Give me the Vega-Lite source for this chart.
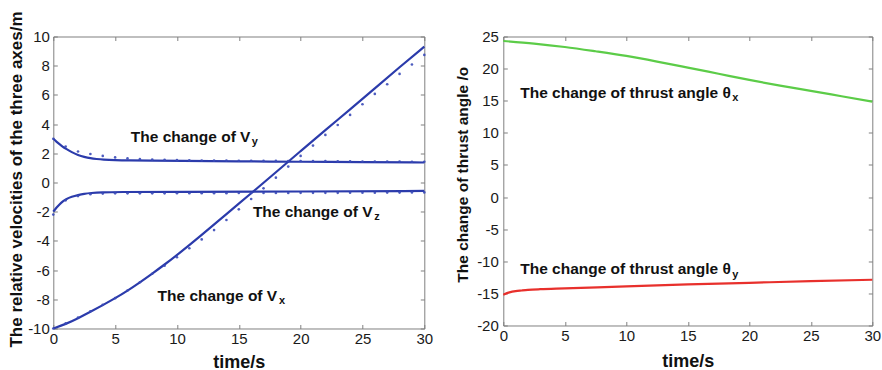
{
  "$schema": "https://vega.github.io/schema/vega-lite/v6.json",
  "background": "white",
  "padding": {"left": 6.3, "top": 9.5, "right": 0, "bottom": 0},
  "bounds": "flush",
  "spacing": 79,
  "config": {
    "view": {"stroke": "#808080", "strokeWidth": 1},
    "font": "Liberation Sans",
    "axis": {
      "grid": false, "domain": false, "tickColor": "#808080", "tickSize": -4, "tickWidth": 1,
      "labelFont": "Liberation Sans", "labelFontSize": 15, "labelColor": "#1a1a1a",
      "labelFlush": false, "labelOverlap": false, "labelExpr": "datum.value + ''",
      "titleFont": "Liberation Sans", "titleFontWeight": "bold", "titleColor": "#111111"
    }
  },
  "datasets": {
    "vel": [
      {"series": "Vx", "t": 0, "v": -10}, {"series": "Vx", "t": 1, "v": -9.7}, {"series": "Vx", "t": 2, "v": -9.3},
      {"series": "Vx", "t": 3, "v": -8.86}, {"series": "Vx", "t": 4, "v": -8.4}, {"series": "Vx", "t": 5, "v": -7.93},
      {"series": "Vx", "t": 6, "v": -7.41}, {"series": "Vx", "t": 7, "v": -6.84}, {"series": "Vx", "t": 8, "v": -6.24},
      {"series": "Vx", "t": 9, "v": -5.62}, {"series": "Vx", "t": 10, "v": -4.98}, {"series": "Vx", "t": 12, "v": -3.6},
      {"series": "Vx", "t": 14, "v": -2.16}, {"series": "Vx", "t": 16, "v": -0.74}, {"series": "Vx", "t": 18, "v": 0.7},
      {"series": "Vx", "t": 20, "v": 2.15}, {"series": "Vx", "t": 22, "v": 3.6}, {"series": "Vx", "t": 24, "v": 5.0},
      {"series": "Vx", "t": 26, "v": 6.45}, {"series": "Vx", "t": 28, "v": 7.9}, {"series": "Vx", "t": 30, "v": 9.3},
      {"series": "Vy", "t": 0, "v": 3.0}, {"series": "Vy", "t": 0.25, "v": 2.8}, {"series": "Vy", "t": 0.5, "v": 2.62},
      {"series": "Vy", "t": 0.75, "v": 2.46}, {"series": "Vy", "t": 1, "v": 2.32}, {"series": "Vy", "t": 1.5, "v": 2.07},
      {"series": "Vy", "t": 2, "v": 1.88}, {"series": "Vy", "t": 2.5, "v": 1.75}, {"series": "Vy", "t": 3, "v": 1.66},
      {"series": "Vy", "t": 3.5, "v": 1.61}, {"series": "Vy", "t": 4, "v": 1.57}, {"series": "Vy", "t": 5, "v": 1.53},
      {"series": "Vy", "t": 6, "v": 1.51}, {"series": "Vy", "t": 8, "v": 1.5}, {"series": "Vy", "t": 10, "v": 1.48},
      {"series": "Vy", "t": 15, "v": 1.45}, {"series": "Vy", "t": 20, "v": 1.42}, {"series": "Vy", "t": 25, "v": 1.39},
      {"series": "Vy", "t": 30, "v": 1.37},
      {"series": "Vz", "t": 0, "v": -2.0}, {"series": "Vz", "t": 0.25, "v": -1.72}, {"series": "Vz", "t": 0.5, "v": -1.5},
      {"series": "Vz", "t": 0.75, "v": -1.3}, {"series": "Vz", "t": 1, "v": -1.15}, {"series": "Vz", "t": 1.5, "v": -0.97},
      {"series": "Vz", "t": 2, "v": -0.86}, {"series": "Vz", "t": 2.5, "v": -0.77}, {"series": "Vz", "t": 3, "v": -0.72},
      {"series": "Vz", "t": 4, "v": -0.67}, {"series": "Vz", "t": 5, "v": -0.65}, {"series": "Vz", "t": 10, "v": -0.64},
      {"series": "Vz", "t": 20, "v": -0.62}, {"series": "Vz", "t": 30, "v": -0.58}
    ],
    "velDots": [
      {"series": "Vx", "t": 0, "v": -10}, {"series": "Vx", "t": 1, "v": -9.65}, {"series": "Vx", "t": 2, "v": -9.25},
      {"series": "Vx", "t": 3, "v": -8.82}, {"series": "Vx", "t": 4, "v": -8.38}, {"series": "Vx", "t": 5, "v": -7.92},
      {"series": "Vx", "t": 6, "v": -7.4}, {"series": "Vx", "t": 7, "v": -6.83}, {"series": "Vx", "t": 8, "v": -6.25},
      {"series": "Vx", "t": 9, "v": -5.7}, {"series": "Vx", "t": 10, "v": -5.12}, {"series": "Vx", "t": 11, "v": -4.5},
      {"series": "Vx", "t": 12, "v": -3.9}, {"series": "Vx", "t": 13, "v": -3.26}, {"series": "Vx", "t": 14, "v": -2.57},
      {"series": "Vx", "t": 15, "v": -1.84}, {"series": "Vx", "t": 16, "v": -1.13}, {"series": "Vx", "t": 17, "v": -0.4},
      {"series": "Vx", "t": 18, "v": 0.33}, {"series": "Vx", "t": 19, "v": 1.09}, {"series": "Vx", "t": 20, "v": 1.82},
      {"series": "Vx", "t": 21, "v": 2.53}, {"series": "Vx", "t": 22, "v": 3.26}, {"series": "Vx", "t": 23, "v": 3.94},
      {"series": "Vx", "t": 24, "v": 4.63}, {"series": "Vx", "t": 25, "v": 5.36}, {"series": "Vx", "t": 26, "v": 6.07},
      {"series": "Vx", "t": 27, "v": 6.73}, {"series": "Vx", "t": 28, "v": 7.44}, {"series": "Vx", "t": 29, "v": 8.08},
      {"series": "Vx", "t": 30, "v": 8.74},
      {"series": "Vy", "t": 0, "v": 3.0}, {"series": "Vy", "t": 1, "v": 2.46}, {"series": "Vy", "t": 2, "v": 2.12},
      {"series": "Vy", "t": 3, "v": 1.95}, {"series": "Vy", "t": 4, "v": 1.82}, {"series": "Vy", "t": 5, "v": 1.72},
      {"series": "Vy", "t": 6, "v": 1.65}, {"series": "Vy", "t": 7, "v": 1.6}, {"series": "Vy", "t": 8, "v": 1.57},
      {"series": "Vy", "t": 9, "v": 1.55}, {"series": "Vy", "t": 10, "v": 1.53}, {"series": "Vy", "t": 11, "v": 1.52},
      {"series": "Vy", "t": 12, "v": 1.51}, {"series": "Vy", "t": 13, "v": 1.5}, {"series": "Vy", "t": 14, "v": 1.5},
      {"series": "Vy", "t": 15, "v": 1.49}, {"series": "Vy", "t": 16, "v": 1.49}, {"series": "Vy", "t": 17, "v": 1.48},
      {"series": "Vy", "t": 18, "v": 1.48}, {"series": "Vy", "t": 19, "v": 1.47}, {"series": "Vy", "t": 20, "v": 1.47},
      {"series": "Vy", "t": 21, "v": 1.46}, {"series": "Vy", "t": 22, "v": 1.46}, {"series": "Vy", "t": 23, "v": 1.45},
      {"series": "Vy", "t": 24, "v": 1.45}, {"series": "Vy", "t": 25, "v": 1.44}, {"series": "Vy", "t": 26, "v": 1.44},
      {"series": "Vy", "t": 27, "v": 1.43}, {"series": "Vy", "t": 28, "v": 1.43}, {"series": "Vy", "t": 29, "v": 1.42},
      {"series": "Vy", "t": 30, "v": 1.42},
      {"series": "Vz", "t": 0, "v": -2.2}, {"series": "Vz", "t": 1, "v": -1.22}, {"series": "Vz", "t": 2, "v": -0.93},
      {"series": "Vz", "t": 3, "v": -0.8}, {"series": "Vz", "t": 4, "v": -0.76}, {"series": "Vz", "t": 5, "v": -0.74},
      {"series": "Vz", "t": 6, "v": -0.74}, {"series": "Vz", "t": 7, "v": -0.74}, {"series": "Vz", "t": 8, "v": -0.74},
      {"series": "Vz", "t": 9, "v": -0.74}, {"series": "Vz", "t": 10, "v": -0.73}, {"series": "Vz", "t": 11, "v": -0.73},
      {"series": "Vz", "t": 12, "v": -0.73}, {"series": "Vz", "t": 13, "v": -0.73}, {"series": "Vz", "t": 14, "v": -0.73},
      {"series": "Vz", "t": 15, "v": -0.72}, {"series": "Vz", "t": 16, "v": -0.72}, {"series": "Vz", "t": 17, "v": -0.72},
      {"series": "Vz", "t": 18, "v": -0.72}, {"series": "Vz", "t": 19, "v": -0.72}, {"series": "Vz", "t": 20, "v": -0.71},
      {"series": "Vz", "t": 21, "v": -0.71}, {"series": "Vz", "t": 22, "v": -0.71}, {"series": "Vz", "t": 23, "v": -0.71},
      {"series": "Vz", "t": 24, "v": -0.7}, {"series": "Vz", "t": 25, "v": -0.7}, {"series": "Vz", "t": 26, "v": -0.7},
      {"series": "Vz", "t": 27, "v": -0.69}, {"series": "Vz", "t": 28, "v": -0.69}, {"series": "Vz", "t": 29, "v": -0.68},
      {"series": "Vz", "t": 30, "v": -0.68}
    ],
    "velLabels": [
      {"t": 6.27, "v": 2.8, "label": "The change of V"},
      {"t": 16.14, "v": -2.35, "label": "The change of V"},
      {"t": 8.43, "v": -8.13, "label": "The change of V"}
    ],
    "velSubs": [
      {"t": 16.05, "v": 2.59, "label": "y"},
      {"t": 25.95, "v": -2.56, "label": "z"},
      {"t": 18.25, "v": -8.34, "label": "x"}
    ],
    "angle": [
      {"series": "θx", "t": 0, "a": 24.3}, {"series": "θx", "t": 2.5, "a": 23.9}, {"series": "θx", "t": 5, "a": 23.37},
      {"series": "θx", "t": 7.5, "a": 22.7}, {"series": "θx", "t": 10, "a": 21.97}, {"series": "θx", "t": 12.5, "a": 21.1},
      {"series": "θx", "t": 15, "a": 20.16}, {"series": "θx", "t": 17.5, "a": 19.2}, {"series": "θx", "t": 20, "a": 18.24},
      {"series": "θx", "t": 22.5, "a": 17.35}, {"series": "θx", "t": 25, "a": 16.53}, {"series": "θx", "t": 27.5, "a": 15.7},
      {"series": "θx", "t": 30, "a": 14.87},
      {"series": "θy", "t": 0, "a": -15.2}, {"series": "θy", "t": 0.5, "a": -14.85}, {"series": "θy", "t": 1, "a": -14.65},
      {"series": "θy", "t": 1.5, "a": -14.55}, {"series": "θy", "t": 2, "a": -14.46}, {"series": "θy", "t": 3, "a": -14.35},
      {"series": "θy", "t": 5, "a": -14.23}, {"series": "θy", "t": 10, "a": -13.9}, {"series": "θy", "t": 15, "a": -13.6},
      {"series": "θy", "t": 20, "a": -13.35}, {"series": "θy", "t": 25, "a": -13.1}, {"series": "θy", "t": 30, "a": -12.88}
    ],
    "angleLabels": [
      {"t": 1.38, "a": 15.45, "label": "The change of thrust angle θ"},
      {"t": 1.38, "a": -12.05, "label": "The change of thrust angle θ"}
    ],
    "angleSubs": [
      {"t": 18.62, "a": 14.95, "label": "x"},
      {"t": 18.62, "a": -12.55, "label": "y"}
    ]
  },
  "hconcat": [
    {
      "width": 371,
      "height": 292,
      "layer": [
        {
          "data": {"name": "vel"},
          "mark": {"type": "line", "color": "#2b3bab", "strokeWidth": 2.2, "interpolate": "basis"},
          "encoding": {
            "x": {"field": "t", "type": "quantitative", "scale": {"domain": [0, 30], "nice": false, "zero": false},
              "axis": {"orient": "bottom", "values": [0, 5, 10, 15, 20, 25, 30], "labelPadding": 7.5,
                "title": "time/s", "titleFontSize": 18, "titleX": 185.5, "titleY": 33.7, "titleAlign": "center", "titleBaseline": "middle", "titleAngle": 0}},
            "y": {"field": "v", "type": "quantitative", "scale": {"domain": [-10, 10], "nice": false, "zero": false},
              "axis": {"orient": "left", "values": [-10, -8, -6, -4, -2, 0, 2, 4, 6, 8, 10], "labelPadding": 8,
                "title": "The relative velocities of the three axes/m", "titleFontSize": 17, "titleX": -36.6, "titleY": 142.5,
                "titleAlign": "center", "titleBaseline": "middle", "titleAngle": 270}},
            "detail": {"field": "series", "type": "nominal"}
          }
        },
        {
          "data": {"name": "velDots"},
          "mark": {"type": "point", "filled": true, "size": 7, "color": "#3a4ab8", "opacity": 0.9},
          "encoding": {
            "x": {"field": "t", "type": "quantitative", "axis": null},
            "y": {"field": "v", "type": "quantitative", "axis": null}
          }
        },
        {
          "data": {"name": "velLabels"},
          "mark": {"type": "text", "align": "left", "baseline": "alphabetic", "fontSize": 15.5, "fontWeight": "bold", "color": "#111111"},
          "encoding": {
            "x": {"field": "t", "type": "quantitative",
              "axis": {"orient": "top", "labels": false, "title": null, "values": [0, 5, 10, 15, 20, 25, 30]}},
            "y": {"field": "v", "type": "quantitative",
              "axis": {"orient": "right", "labels": false, "title": null, "values": [-10, -8, -6, -4, -2, 0, 2, 4, 6, 8, 10]}},
            "text": {"field": "label"}
          }
        },
        {
          "data": {"name": "velSubs"},
          "mark": {"type": "text", "align": "left", "baseline": "alphabetic", "fontSize": 11, "fontWeight": "bold", "color": "#111111"},
          "encoding": {
            "x": {"field": "t", "type": "quantitative", "axis": null},
            "y": {"field": "v", "type": "quantitative", "axis": null},
            "text": {"field": "label"}
          }
        }
      ],
      "resolve": {"axis": {"x": "independent", "y": "independent"}}
    },
    {
      "width": 369,
      "height": 289,
      "layer": [
        {
          "data": {"name": "angle"},
          "mark": {"type": "line", "strokeWidth": 2.2, "interpolate": "monotone"},
          "encoding": {
            "x": {"field": "t", "type": "quantitative", "scale": {"domain": [0, 30], "nice": false, "zero": false},
              "axis": {"orient": "bottom", "values": [0, 5, 10, 15, 20, 25, 30], "labelPadding": 7.5,
                "title": "time/s", "titleFontSize": 18, "titleX": 184.5, "titleY": 36.5, "titleAlign": "center", "titleBaseline": "middle", "titleAngle": 0}},
            "y": {"field": "a", "type": "quantitative", "scale": {"domain": [-20, 25], "nice": false, "zero": false},
              "axis": {"orient": "left", "values": [-20, -15, -10, -5, 0, 5, 10, 15, 20, 25], "labelPadding": 9,
                "title": "The change of thrust angle /o", "titleFontSize": 15.5, "titleX": -41, "titleY": 137.7,
                "titleAlign": "center", "titleBaseline": "middle", "titleAngle": 270}},
            "color": {"field": "series", "type": "nominal", "scale": {"domain": ["θx", "θy"], "range": ["#5ccc48", "#e8302c"]}, "legend": null}
          }
        },
        {
          "data": {"name": "angleLabels"},
          "mark": {"type": "text", "align": "left", "baseline": "alphabetic", "fontSize": 15.5, "fontWeight": "bold", "color": "#111111"},
          "encoding": {
            "x": {"field": "t", "type": "quantitative",
              "axis": {"orient": "top", "labels": false, "title": null, "values": [0, 5, 10, 15, 20, 25, 30]}},
            "y": {"field": "a", "type": "quantitative",
              "axis": {"orient": "right", "labels": false, "title": null, "values": [-20, -15, -10, -5, 0, 5, 10, 15, 20, 25]}},
            "text": {"field": "label"}
          }
        },
        {
          "data": {"name": "angleSubs"},
          "mark": {"type": "text", "align": "left", "baseline": "alphabetic", "fontSize": 11, "fontWeight": "bold", "color": "#111111"},
          "encoding": {
            "x": {"field": "t", "type": "quantitative", "axis": null},
            "y": {"field": "a", "type": "quantitative", "axis": null},
            "text": {"field": "label"}
          }
        }
      ],
      "resolve": {"axis": {"x": "independent", "y": "independent"}}
    }
  ]
}
